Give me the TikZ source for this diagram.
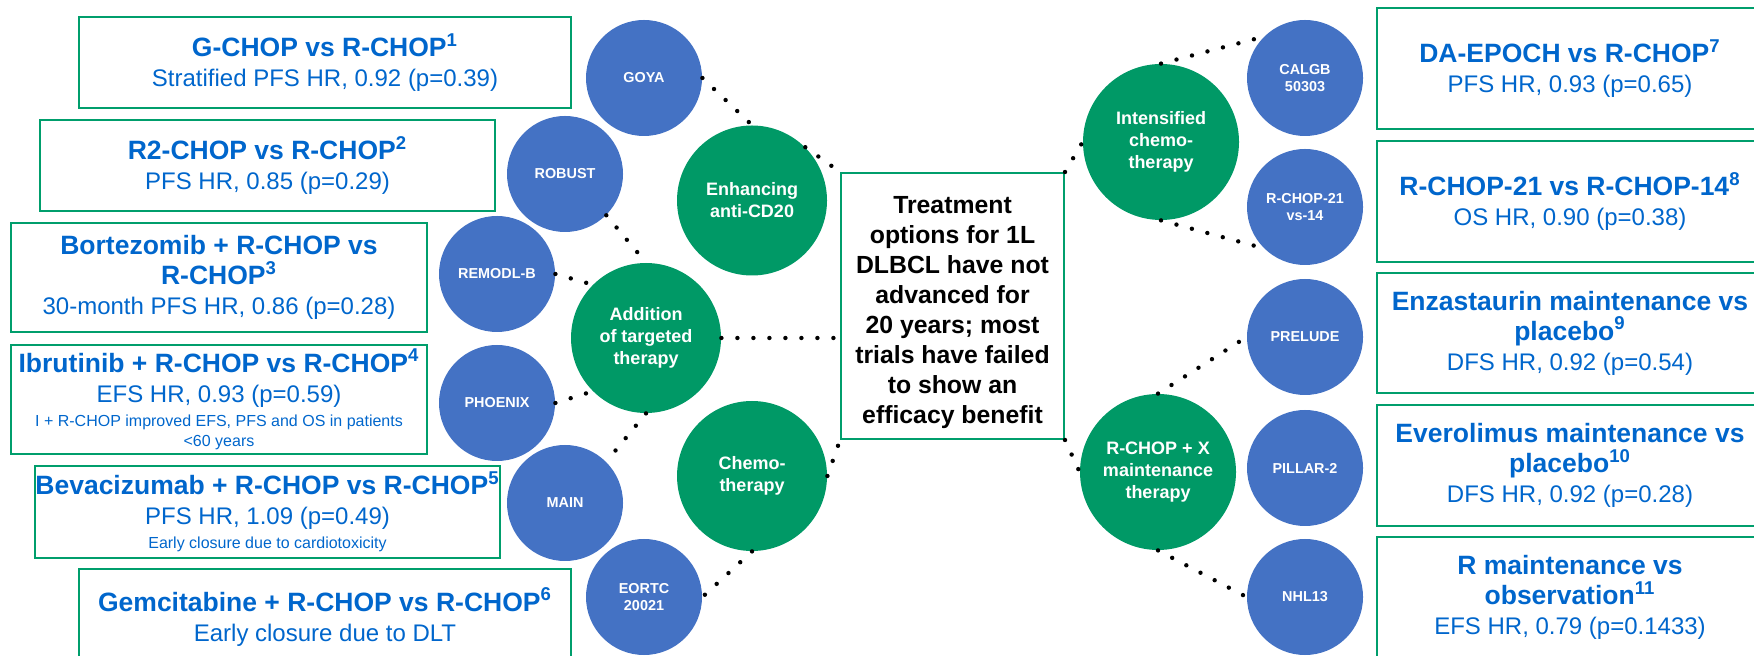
\documentclass[tikz,border=0pt]{standalone}
\usepackage{fontspec}
\setmainfont{Liberation Sans}
\usepackage{tikz}

\definecolor{studyblue}{RGB}{68,114,196}
\definecolor{armgreen}{RGB}{0,153,102}
\definecolor{framegreen}{RGB}{0,158,108}
\definecolor{textblue}{RGB}{0,102,204}

\newcommand\trialhead{\bfseries\fontsize{13.25}{15}\selectfont}
\newcommand\trialbody{\mdseries\fontsize{12}{15}\selectfont}
\newcommand\trialnote{\mdseries\fontsize{8}{10}\selectfont}

\begin{document}
\begin{tikzpicture}[x=0.5pt,y=-0.5pt,
    trialbox/.style={draw=framegreen,line width=1pt,inner sep=0pt,align=center,text=textblue,
        font=\fontsize{12}{15}\selectfont},
    studydot/.style={circle,fill=studyblue,inner sep=0pt,minimum size=58pt,align=center,
        text=white,font=\bfseries\fontsize{7.2}{8.6}\selectfont},
    armdot/.style={circle,fill=armgreen,inner sep=0pt,minimum size=75pt,align=center,
        text=white,font=\bfseries\fontsize{9}{11}\selectfont},
    link/.style={line width=2.2pt,line cap=round,dash pattern=on 0pt off 8pt}]
    %
    % page (pixel units, y downwards)
    \clip (0,0) rectangle (1754,656);
    %
    % central statement
    \node[draw=framegreen,line width=1pt,minimum width=111.5pt,minimum height=133pt,
        inner sep=0pt,align=center,font=\bfseries\fontsize{12.4}{15}\selectfont]
        (hub) at (952.5,306)
        {\rule{0pt}{15pt}Treatment\\options for 1L\\DLBCL have not\\advanced for\\20 years; most\\
         trials have failed\\to show an\\efficacy benefit};
    %
    % strategy circles
    \node[armdot] (enh)   at (752,200.5) {Enhancing\\anti-CD20};
    \node[armdot] (add)   at (646,338)   {Addition\\of targeted\\therapy};
    \node[armdot] (chemo) at (752,476)   {Chemo-\\therapy};
    \node[armdot,minimum size=78pt] (int)  at (1161,142) {Intensified\\chemo-\\therapy};
    \node[armdot,minimum size=78pt] (rchx) at (1158,472) {R-CHOP + X\\maintenance\\therapy};
    %
    % study circles
    \foreach
    [
        var=\nm,
        var=\px,
        var=\py,
        var=\study,
    ]
    in {goya/644/78/GOYA, robust/565/174/ROBUST, remodl/497/274/REMODL-B,
        phoenix/497/403/PHOENIX, main/565/503/MAIN, eortc/644/597/{EORTC\\20021},
        calgb/1305/78/{CALGB\\50303}, rchopb/1305/207/{R-CHOP-21\\vs-14},
        prelude/1305/337/PRELUDE, pillar/1305/468/PILLAR-2, nhl/1305/597/NHL13}%
    {
     \node[studydot] (\nm) at (\px,\py) {\study};
    }
    %
    % result boxes, left
    \node[trialbox,minimum width=246pt,minimum height=45.5pt] (gchop) at (325,62.5)
        {\trialhead G-CHOP vs R-CHOP\textsuperscript{1}\\
         \trialbody Stratified PFS HR, 0.92 (p=0.39)};
    \node[trialbox,minimum width=227.5pt,minimum height=45.5pt] (rtwo) at (267.5,165.5)
        {\trialhead R2-CHOP vs R-CHOP\textsuperscript{2}\\
         \trialbody PFS HR, 0.85 (p=0.29)};
    \node[trialbox,minimum width=208pt,minimum height=54.5pt] (bort) at (219,277.5)
        {\trialhead Bortezomib + R-CHOP vs\\\trialhead R-CHOP\textsuperscript{3}\\
         \trialbody 30-month PFS HR, 0.86 (p=0.28)};
    \node[trialbox,minimum width=208pt,minimum height=54.5pt] (ibru) at (219,399.5)
        {\trialhead Ibrutinib + R-CHOP vs R-CHOP\textsuperscript{4}\\
         \trialbody EFS HR, 0.93 (p=0.59)\\[-3pt]
         \trialnote I + R-CHOP improved EFS, PFS and OS in patients\\[-5pt]
         \trialnote <60 years};
    \node[trialbox,minimum width=227.5pt,minimum height=46pt] (beva) at (267.5,512)
        {\trialhead Bevacizumab + R-CHOP vs R-CHOP\textsuperscript{5}\\
         \trialbody PFS HR, 1.09 (p=0.49)\\[-3pt]
         \trialnote Early closure due to cardiotoxicity};
    \node[trialbox,minimum width=246pt,minimum height=48pt] (gemc) at (325,617)
        {\trialhead Gemcitabine + R-CHOP vs R-CHOP\textsuperscript{6}\\
         \trialbody Early closure due to DLT};
    %
    % result boxes, right
    \node[trialbox,minimum width=193pt,minimum height=60.5pt] (epoch) at (1570,68.5)
        {\trialhead DA-EPOCH vs R-CHOP\textsuperscript{7}\\
         \trialbody PFS HR, 0.93 (p=0.65)};
    \node[trialbox,minimum width=193pt,minimum height=60.5pt] (dense) at (1570,201.5)
        {\trialhead R-CHOP-21 vs R-CHOP-14\textsuperscript{8}\\
         \trialbody OS HR, 0.90 (p=0.38)};
    \node[trialbox,minimum width=193pt,minimum height=60pt] (enza) at (1570,333)
        {\trialhead Enzastaurin maintenance vs\\\trialhead placebo\textsuperscript{9}\\
         \trialbody DFS HR, 0.92 (p=0.54)};
    \node[trialbox,minimum width=193pt,minimum height=60.5pt] (evero) at (1570,465.5)
        {\trialhead Everolimus maintenance vs\\\trialhead placebo\textsuperscript{10}\\
         \trialbody DFS HR, 0.92 (p=0.28)};
    \node[trialbox,minimum width=193pt,minimum height=60.5pt] (rmaint) at (1570,597.5)
        {\trialhead R maintenance vs\\\trialhead observation\textsuperscript{11}\\
         \trialbody EFS HR, 0.79 (p=0.1433)};
    %
    % dotted links
    \draw[link] (goya.east) -- (enh.north);
    \draw[link] (robust.south east) -- (add.north);
    \draw[link] (remodl.east) -- (add.north west);
    \draw[link] (phoenix.east) -- (add.south west);
    \draw[link] (add.south) -- (main.north east);
    \draw[link] (chemo.south) -- (eortc.east);
    \draw[link] (enh.north east) -- (hub.north west);
    \draw[link] (add.east) -- (add.east -| hub.west);
    \draw[link] (chemo.east) -- (hub.south west);
    \draw[link] (hub.north east) -- (int.west);
    \draw[link] (hub.south east) -- (rchx.west);
    \draw[link] (int.north) -- (calgb.north west);
    \draw[link] (int.south) -- (rchopb.south west);
    \draw[link] (rchx.north) -- (prelude.west);
    \draw[link] (rchx.south) -- (nhl.west);
\end{tikzpicture}
\end{document}
